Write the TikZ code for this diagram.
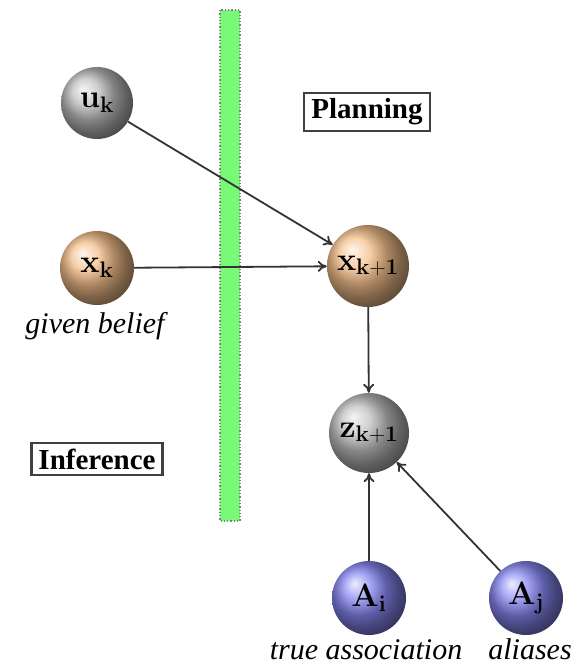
\documentclass[tikz,border=0pt]{standalone}
\usepackage[no-math]{fontspec}
\setmainfont{Liberation Serif}
\usetikzlibrary{shadings,arrows.meta}
\definecolor{tanball}{RGB}{245,192,140}
\definecolor{blueball}{RGB}{135,135,242}
\definecolor{greyb}{RGB}{190,190,190}
\definecolor{barg}{RGB}{120,250,120}
\newcommand{\bl}[1]{\scalebox{1.3}{$\mathbf{#1}$}}
\begin{document}
\begin{tikzpicture}[x=1pt,y=-1pt,
  ball/.style={circle,minimum size=#1,inner sep=0pt,font=\fontsize{24}{26}\selectfont},
  greyball/.style={ball=72pt,shading=ball,ball color=greyb},
  tanb/.style={ball=74pt,shading=ball,ball color=tanball},
  blueb/.style={ball=74pt,shading=ball,ball color=blueball},
  labelbox/.style={draw=black!75,line width=2.2pt,inner xsep=7pt,inner ysep=6pt,font=\fontsize{29}{31}\selectfont\bfseries},
  caption/.style={font=\fontsize{30}{32}\selectfont\itshape,anchor=base},
  conn/.style={-{To[length=9pt,width=11pt]},line width=1.8pt,black!80}]
\useasboundingbox (0,0) rectangle (577,666);
\path[fill=barg,draw=gray,dotted,line width=1.3pt] (220,10) rectangle (240,521);
\node[greyball] (uk) at (97,103) {\bl{u_k}};
\node[tanb] (xk) at (97,268) {\bl{x_k}};
\node[tanb,ball=82pt] (xk1) at (368,266) {\bl{x_{k+1}}};
\node[greyball,ball=80pt] (zk1) at (369,433) {\bl{z_{k+1}}};
\node[blueb] (Ai) at (369,598) {\bl{A_i}};
\node[blueb] (Aj) at (526,598) {\bl{A_j}};
\node[labelbox] (plan) at (367,112) {Planning};
\node[labelbox] (inf) at (97,459) {Inference};
\node[caption] (given) at (95,333) {given belief};
\node[caption] (true) at (366,659) {true association};
\node[caption] (alias) at (530,659) {aliases};
\draw[conn] (uk) -- (xk1);
\draw[conn] (xk) -- (xk1);
\draw[conn] (xk1) -- (zk1);
\draw[conn] (Ai) -- (zk1);
\draw[conn] (Aj) -- (zk1);
\end{tikzpicture}
\end{document}
